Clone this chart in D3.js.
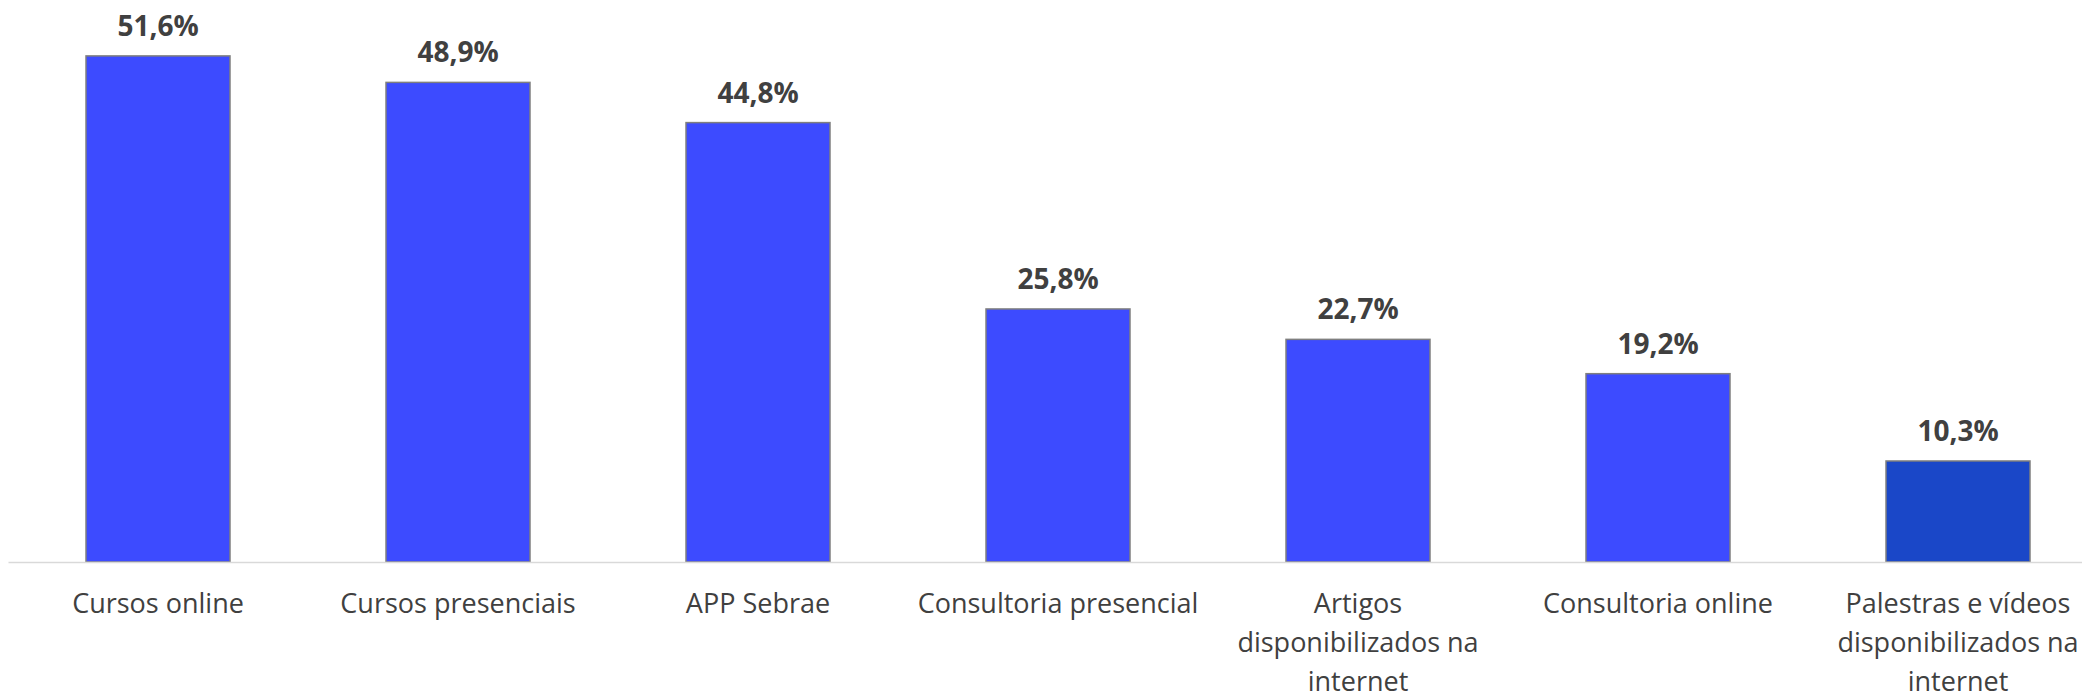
<!DOCTYPE html>
<html>
<head>
<meta charset="utf-8">
<script src="https://cdn.jsdelivr.net/npm/d3@7"></script>
<style>
  html, body { margin: 0; padding: 0; background: #ffffff; overflow: hidden; }
  svg { display: block; }
</style>
</head>
<body>
<svg id="chart" width="2082" height="694"></svg>
<script>
// Categories and their wrapped axis labels
const categories = [
  "Cursos online",
  "Cursos presenciais",
  "APP Sebrae",
  "Consultoria presencial",
  "Artigos disponibilizados na internet",
  "Consultoria online",
  "Palestras e vídeos disponibilizados na internet"
];
const labelLines = [
  ["Cursos online"],
  ["Cursos presenciais"],
  ["APP Sebrae"],
  ["Consultoria presencial"],
  ["Artigos", "disponibilizados na", "internet"],
  ["Consultoria online"],
  ["Palestras e vídeos", "disponibilizados na", "internet"]
];
// Share of respondents (%)
const values = [51.6, 48.9, 44.8, 25.8, 22.7, 19.2, 10.3];
const barColors = ["#3D4BFF", "#3D4BFF", "#3D4BFF", "#3D4BFF", "#3D4BFF", "#3D4BFF", "#1A47C8"];

const svg = d3.select("#chart");
const baseY = 562;

const x = d3.scaleBand()
  .domain(categories)
  .range([8, 2108])
  .paddingInner(0.52)
  .paddingOuter(0.26);

const y = d3.scaleLinear()
  .domain([0, 57.3])
  .range([baseY, 0]);

const fmt = v => v.toFixed(1).replace(".", ",") + "%";

// Bars
svg.append("g").selectAll("rect")
  .data(values)
  .join("rect")
  .attr("x", (d, i) => x(categories[i]))
  .attr("y", d => y(d))
  .attr("width", x.bandwidth())
  .attr("height", d => y(0) - y(d))
  .attr("fill", (d, i) => barColors[i])
  .attr("stroke", "#7F7F7F")
  .attr("stroke-width", 1.5);

// Baseline axis
const axis = svg.append("g")
  .attr("transform", `translate(0,${baseY})`)
  .call(d3.axisBottom(x).tickSize(0).tickFormat(""));
axis.select(".domain")
  .attr("stroke", "#D9D9D9")
  .attr("stroke-width", 1.5);

// Category labels
const lab = svg.append("g")
  .attr("font-family", "'Open Sans', sans-serif")
  .attr("font-size", 27)
  .attr("fill", "#404040")
  .attr("text-anchor", "middle");
lab.selectAll("text")
  .data(labelLines)
  .join("text")
  .attr("x", (d, i) => x(categories[i]) + x.bandwidth() / 2)
  .attr("y", 613)
  .selectAll("tspan")
  .data(d => d)
  .join("tspan")
  .attr("x", function () { return d3.select(this.parentNode).attr("x"); })
  .attr("dy", (d, j) => j === 0 ? 0 : 39)
  .text(d => d);

// Value labels
svg.append("g")
  .attr("font-family", "'Open Sans', sans-serif")
  .attr("font-size", 28)
  .attr("font-weight", "bold")
  .attr("fill", "#404040")
  .attr("text-anchor", "middle")
  .selectAll("text")
  .data(values)
  .join("text")
  .attr("x", (d, i) => x(categories[i]) + x.bandwidth() / 2)
  .attr("y", d => y(d) - 20)
  .text(d => fmt(d));
</script>
</body>
</html>
